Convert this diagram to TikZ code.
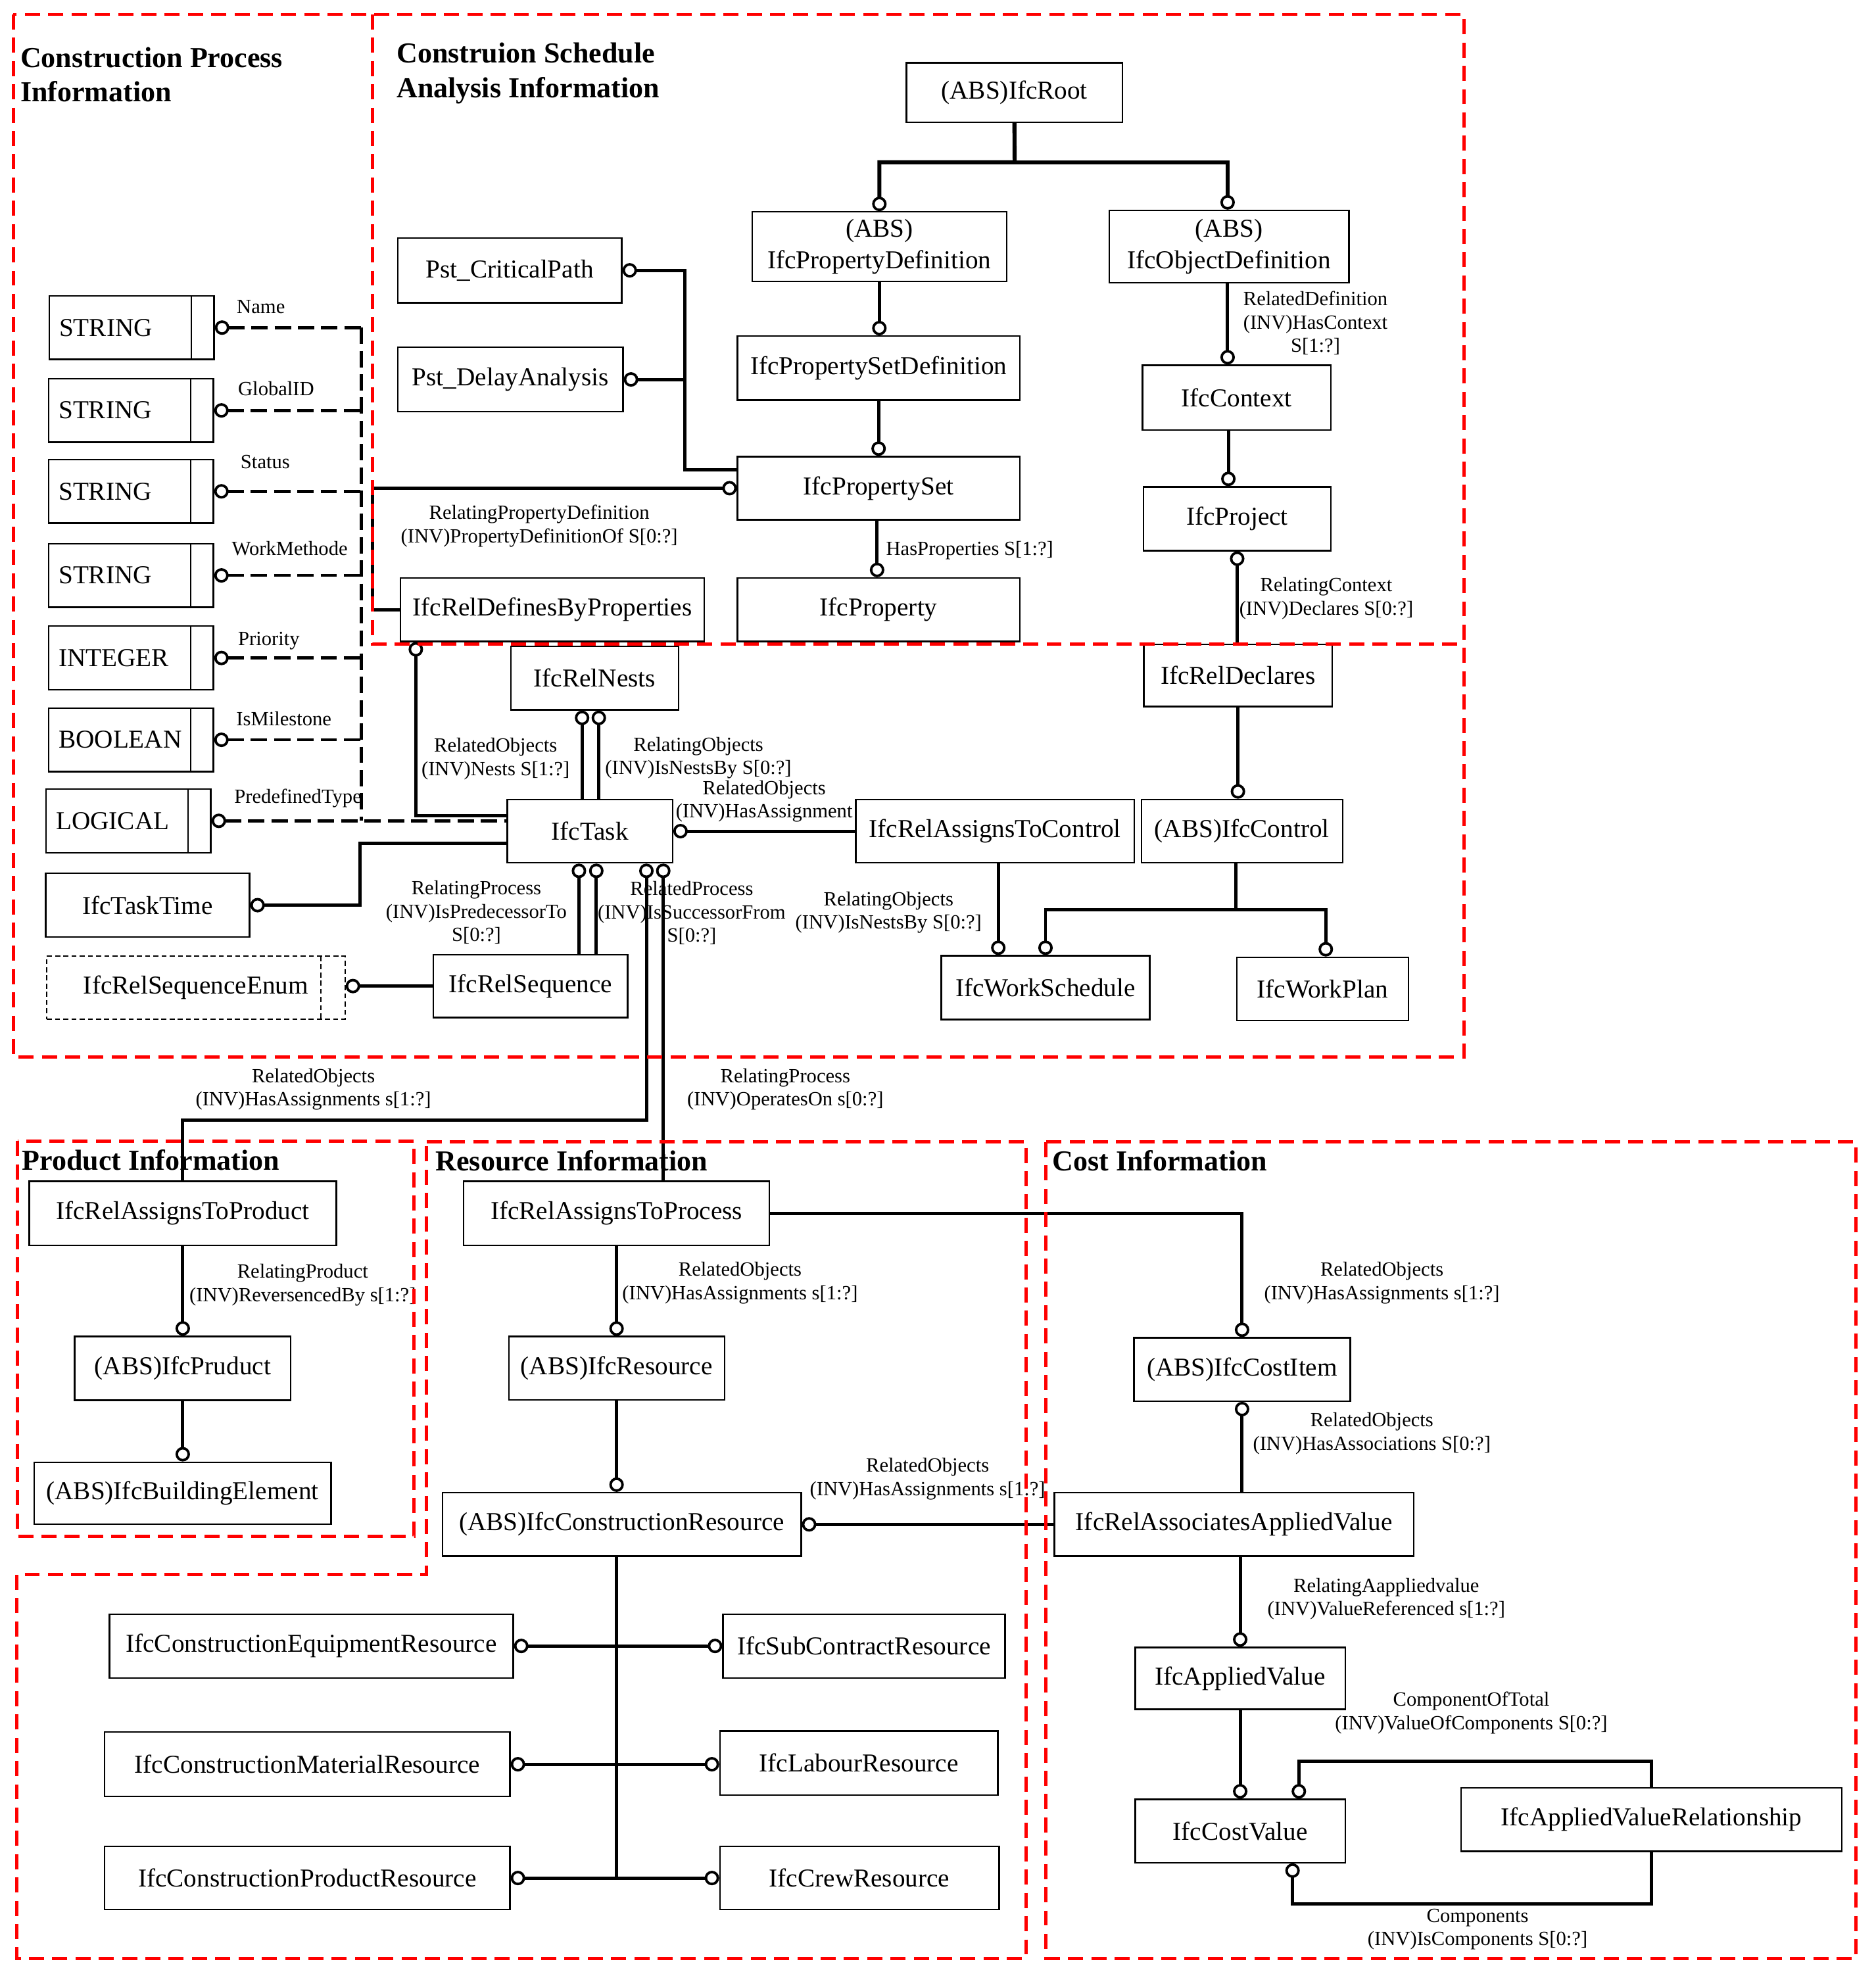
\documentclass[tikz,border=0pt]{standalone}
\usepackage{fontspec}
\setmainfont{Liberation Serif}
\usetikzlibrary{arrows.meta}

\newcommand{\clsfont}{\fontsize{20.5}{25.3}\selectfont}
\newcommand{\lblfont}{\fontsize{16}{18.5}\selectfont}
\newcommand{\ttlfont}{\fontsize{23}{27.5}\selectfont\bfseries}

\begin{document}
\begin{tikzpicture}[x=1pt,y=-1pt,
  cls/.style 2 args={draw,line width=1.2pt,minimum width=#1pt,minimum height=#2pt,inner sep=0pt,align=center,font=\clsfont},
  typ/.style={draw,line width=1.2pt,minimum height=50.5pt,text width=115pt,inner xsep=8pt,inner ysep=0pt,align=left,font=\clsfont,
    path picture={\draw[line width=1pt] ([xshift=-18pt]path picture bounding box.north east) -- ([xshift=-18pt]path picture bounding box.south east);}},
  enm/.style={draw,line width=1pt,dash pattern=on 4pt off 2.5pt,minimum width=236.9pt,minimum height=50.3pt,inner sep=0pt,font=\clsfont,
    path picture={\draw[line width=1pt,dash pattern=on 4pt off 2.5pt] ([xshift=-19pt]path picture bounding box.north east) -- ([xshift=-19pt]path picture bounding box.south east);}},
  lbl/.style={font=\lblfont,align=center,inner sep=0pt},
  ttl/.style={font=\ttlfont,align=left,inner sep=0pt,anchor=north west},
  link/.style={line width=2.6pt},
  dlink/.style={line width=2.5pt,dash pattern=on 13pt off 5.5pt},
  oe/.style={-{Circle[open,length=11.5pt,width=11.5pt,line width=2pt]}},
  os/.style={{Circle[open,length=11.5pt,width=11.5pt,line width=2pt]}-},
  ob/.style={{Circle[open,length=11.5pt,width=11.5pt,line width=2pt]}-{Circle[open,length=11.5pt,width=11.5pt,line width=2pt]}},
  frame/.style={red,line width=2.6pt,dash pattern=on 12pt off 6.5pt}]

\useasboundingbox (0,0) rectangle (1490.1,1565.3);

\node[ttl] (tproc) at (16,37.3) {Construction Process\\Information};
\node[ttl] (tsched) at (315,33.7) {Construion Schedule\\Analysis Information};
\node[ttl] (tprod) at (17.3,913.3) {Product Information};
\node[ttl] (tres) at (346,914) {Resource Information};
\node[ttl] (tcost) at (836,914) {Cost Information};

\node[cls={171.6}{47.3}] (root) at (806,73.5) {(ABS)IfcRoot};
\node[cls={202}{55.2}] (propdef) at (698.7,196) {(ABS)\\IfcPropertyDefinition};
\node[cls={190.6}{57.5}] (objdef) at (976.5,195.9) {(ABS)\\IfcObjectDefinition};
\node[cls={224.2}{50.9}] (psetdef) at (698.1,292.5) {IfcPropertySetDefinition};
\node[cls={224.2}{50.2}] (pset) at (698.1,387.9) {IfcPropertySet};
\node[cls={224.2}{50.4}] (prop) at (698.1,484.4) {IfcProperty};
\node[cls={149.6}{51.6}] (context) at (982.6,316) {IfcContext};
\node[cls={149}{50.7}] (project) at (983,412.2) {IfcProject};
\node[cls={178}{51.5}] (critpath) at (405,214.8) {Pst\_CriticalPath};
\node[cls={179}{51}] (delay) at (405.5,301.5) {Pst\_DelayAnalysis};
\node[cls={241.4}{50.4}] (reldefprop) at (438.9,484.4) {IfcRelDefinesByProperties};
\node[cls={133}{50.5}] (relnests) at (472.5,538.8) {IfcRelNests};
\node[cls={131.3}{50.4}] (task) at (468.7,660.4) {IfcTask};
\node[cls={221.2}{50.4}] (relassctrl) at (790.5,660.4) {IfcRelAssignsToControl};
\node[cls={160}{50.4}] (control) at (986.8,660.4) {(ABS)IfcControl};
\node[cls={149.6}{49.4}] (reldecl) at (983.6,536.7) {IfcRelDeclares};
\node[cls={165.6}{50.6}] (worksched) at (830.7,784.7) {IfcWorkSchedule};
\node[cls={136.6}{50.4}] (workplan) at (1050.9,785.8) {IfcWorkPlan};
\node[cls={154.3}{50.1}] (relseq) at (421.6,783.5) {IfcRelSequence};
\node[enm] (relseqenum) at (155.7,784.8) {IfcRelSequenceEnum};
\node[cls={162}{50.4}] (tasktime) at (117.3,719.2) {IfcTaskTime};

\node[typ] (t1) at (104.6,260.3) {STRING};
\node[typ] (t2) at (104.1,326.1) {STRING};
\node[typ] (t3) at (104.1,390.4) {STRING};
\node[typ] (t4) at (104.1,457.2) {STRING};
\node[typ] (t5) at (104.1,522.8) {INTEGER};
\node[typ] (t6) at (104.1,587.8) {BOOLEAN};
\node[typ] (t7) at (102,652.2) {LOGICAL};

\node[cls={244}{51}] (relassprod) at (145.2,964.1) {IfcRelAssignsToProduct};
\node[cls={171.7}{50.7}] (product) at (145.2,1087.2) {(ABS)IfcPruduct};
\node[cls={236}{49.2}] (buildelem) at (145,1186.4) {(ABS)IfcBuildingElement};
\node[cls={242.8}{51}] (relassproc) at (489.9,964.1) {IfcRelAssignsToProcess};
\node[cls={171.4}{50.5}] (resource) at (489.9,1087.2) {(ABS)IfcResource};
\node[cls={285.1}{50.4}] (conres) at (494,1211.2) {(ABS)IfcConstructionResource};
\node[cls={320.8}{50.7}] (equip) at (247.4,1307.8) {IfcConstructionEquipmentResource};
\node[cls={321.9}{51}] (material) at (244.2,1401.8) {IfcConstructionMaterialResource};
\node[cls={321.9}{50}] (prodres) at (244.2,1492.2) {IfcConstructionProductResource};
\node[cls={224}{50.7}] (subcon) at (686.5,1307.8) {IfcSubContractResource};
\node[cls={220.8}{50.8}] (labour) at (682.4,1400.8) {IfcLabourResource};
\node[cls={221.8}{50}] (crew) at (682.9,1492.2) {IfcCrewResource};
\node[cls={171.8}{50.3}] (costitem) at (986.9,1088.1) {(ABS)IfcCostItem};
\node[cls={285.4}{50.4}] (relassocav) at (980.5,1211.2) {IfcRelAssociatesAppliedValue};
\node[cls={166.8}{49.2}] (appval) at (985.4,1333.6) {IfcAppliedValue};
\node[cls={166.8}{50.3}] (costval) at (985.4,1454.8) {IfcCostValue};
\node[cls={302.5}{50.6}] (avrel) at (1312.2,1445.7) {IfcAppliedValueRelationship};

\node[lbl,anchor=west] (lname) at (188,243.6) {Name};
\node[lbl,anchor=west] (lguid) at (189,309) {GlobalID};
\node[lbl,anchor=west] (lstatus) at (191,367) {Status};
\node[lbl,anchor=west] (lmethod) at (184,436) {WorkMethode};
\node[lbl,anchor=west] (lprio) at (189,509) {Priority};
\node[lbl,anchor=west] (lmile) at (187.6,571) {IsMilestone};
\node[lbl,anchor=west] (lptype) at (186,634.3) {PredefinedType};

\node[lbl] (lreldef) at (1045.2,256.8) {RelatedDefinition\\(INV)HasContext\\S[1:?]};
\node[lbl] (lhasprop) at (770.5,437.6) {HasProperties S[1:?]};
\node[lbl] (lrelpd) at (428.5,418) {RelatingPropertyDefinition\\(INV)PropertyDefinitionOf S[0:?]};
\node[lbl] (lrelctx) at (1053.8,475.5) {RelatingContext\\(INV)Declares S[0:?]};
\node[lbl] (lnests) at (393.8,603) {RelatedObjects\\(INV)Nests S[1:?]};
\node[lbl] (lnestsby) at (554.9,602.3) {RelatingObjects\\(INV)IsNestsBy S[0:?]};
\node[lbl] (lhasasg) at (607.2,636.7) {RelatedObjects\\(INV)HasAssignment};
\node[lbl] (lpred) at (378.5,725) {RelatingProcess\\(INV)IsPredecessorTo\\S[0:?]};
\node[lbl] (lsucc) at (549.6,725.4) {RelatedProcess\\(INV)IsSuccessorFrom\\S[0:?]};
\node[lbl] (lctrl) at (706,725) {RelatingObjects\\(INV)IsNestsBy S[0:?]};
\node[lbl] (lprodasg) at (249,865.4) {RelatedObjects\\(INV)HasAssignments s[1:?]};
\node[lbl] (loperates) at (624,865.4) {RelatingProcess\\(INV)OperatesOn s[0:?]};
\node[lbl] (lrevby) at (240.5,1021) {RelatingProduct\\(INV)ReversencedBy s[1:?]};
\node[lbl] (lresasg) at (588,1019.5) {RelatedObjects\\(INV)HasAssignments s[1:?]};
\node[lbl] (lcostasg) at (1098,1019.5) {RelatedObjects\\(INV)HasAssignments s[1:?]};
\node[lbl] (lassoc) at (1090,1139) {RelatedObjects\\(INV)HasAssociations S[0:?]};
\node[lbl] (lconasg) at (737,1175) {RelatedObjects\\(INV)HasAssignments s[1:?]};
\node[lbl] (lvalref) at (1101.5,1270.3) {RelatingAappliedvalue\\(INV)ValueReferenced s[1:?]};
\node[lbl] (lcomptot) at (1169,1361) {ComponentOfTotal\\(INV)ValueOfComponents S[0:?]};
\node[lbl] (lcomps) at (1174,1533) {Components\\(INV)IsComponents S[0:?]};

\coordinate (rootbr) at (806.2,128.9);
\coordinate (ctrlbr) at (982.1,723);
\coordinate (pstjoin) at (544,373.5);
\coordinate (psetbend) at (296,387.9);
\coordinate (prodbend) at (145.2,890);
\coordinate (dashx) at (287,0);

\draw[link,line width=3.2pt,oe] (root.south) -- (rootbr) -| (propdef.north);
\draw[link,line width=3.2pt,oe] (rootbr) -| ([xshift=-1.1pt]objdef.north);
\draw[link,oe] (propdef.south) -- (propdef.south |- psetdef.north);
\draw[link,oe] (psetdef.south) -- (pset.north);
\draw[link,oe] ([xshift=-1.2pt]pset.south) -- ([xshift=-1.2pt]prop.north);
\draw[link,oe] ([xshift=-1.1pt]objdef.south) -- ([xshift=-1.1pt]objdef.south |- context.north);
\draw[link,oe] ([xshift=-6.6pt]context.south) -- ([xshift=-6.6pt]context.south |- project.north);
\draw[link,os] (project.south) -- (project.south |- reldecl.north);
\draw[link,oe] (reldecl.south) -- (reldecl.south |- control.north);
\draw[link] (control.south -| ctrlbr) -- (ctrlbr);
\draw[link,oe] (ctrlbr) -| (worksched.north);
\draw[link,oe] (ctrlbr) -| ([xshift=2.5pt]workplan.north);
\draw[link,oe] ([xshift=2.7pt]relassctrl.south) -- ([xshift=2.7pt]relassctrl.south |- worksched.north);
\draw[link,os] (task.east) -- (relassctrl.west);

\draw[link,os] (critpath.east) -| (pstjoin) -- (pstjoin -| pset.west);
\draw[link,os] (delay.east) -- (delay.east -| pstjoin);
\draw[link,os] (pset.west) -- (psetbend) |- (reldefprop.west);
\draw[link,os] ([xshift=12.8pt]reldefprop.south west) |- ([yshift=12.4pt]task.west);
\draw[link,os] ([xshift=-10pt]relnests.south) -- ([xshift=-10pt]relnests.south |- task.north);
\draw[link,os] ([xshift=3.3pt]relnests.south) -- ([xshift=3.3pt]relnests.south |- task.north);
\draw[link,os] ([xshift=-8.7pt]task.south) -- ([xshift=-8.7pt]task.south |- relseq.north);
\draw[link,os] ([xshift=5.1pt]task.south) -- ([xshift=5.1pt]task.south |- relseq.north);
\draw[link,oe] (relseq.west) -- (relseq.west -| relseqenum.east);
\draw[link,os] ([xshift=44.9pt]task.south) |- (prodbend) -- (relassprod.north);
\draw[link,os] ([xshift=58.3pt]task.south) -- ([xshift=58.3pt]task.south |- relassproc.north);
\draw[link,os] (tasktime.east) -- ++(87.3,0) |- ([yshift=-9.9pt]task.west);

\draw[dlink,os] (t1.east) -- (t1.east -| dashx);
\draw[dlink,os] (t2.east) -- (t2.east -| dashx);
\draw[dlink,os] (t3.east) -- (t3.east -| dashx);
\draw[dlink,os] (t4.east) -- (t4.east -| dashx);
\draw[dlink,os] (t5.east) -- (t5.east -| dashx);
\draw[dlink,os] (t6.east) -- (t6.east -| dashx);
\draw[dlink,os] (t7.east) -- (t7.east -| task.west);
\draw[dlink] (t1.east -| dashx) -- (t7.east -| dashx);

\draw[link,oe] (relassprod.south) -- (product.north);
\draw[link,oe] (product.south) -- (product.south |- buildelem.north);

\draw[link,oe] (relassproc.south) -- (resource.north);
\draw[link,oe] (resource.south) -- (resource.south |- conres.north);
\draw[link,oe] (relassproc.east) -| (costitem.north);
\draw[link,os] (conres.east) -- (relassocav.west);
\draw[link] ([xshift=-4pt]conres.south) -- ([xshift=-4pt]conres.south |- prodres.east);
\draw[link,ob] (equip.east) -- (subcon.west);
\draw[link,ob] (material.east) -- (material.east -| labour.west);
\draw[link,ob] (prodres.east) -- (crew.west);

\draw[link,os] (costitem.south) -- (costitem.south |- relassocav.north);
\draw[link,oe] (appval.north |- relassocav.south) -- (appval.north);
\draw[link,oe] (appval.south) -- (costval.north);
\draw[link,os] ([xshift=46.6pt]costval.north) -- ++(0,-29.7) -| (avrel.north);
\draw[link,os] ([xshift=41.6pt]costval.south) -- ++(0,32.3) -| (avrel.south);

\draw[frame] (10.7,11.5) rectangle (1163,840);
\draw[frame] (296,11.5) -- (296,512) -- (1163,512);
\draw[frame] (14,906.6) rectangle (329,1220.7);
\draw[frame] (339,907.5) -- (815.5,907.5) -- (815.5,1556) -- (13.3,1556) -- (13.3,1251) -- (339,1251) -- cycle;
\draw[frame] (831.2,907.5) rectangle (1474.5,1556);

\end{tikzpicture}
\end{document}
